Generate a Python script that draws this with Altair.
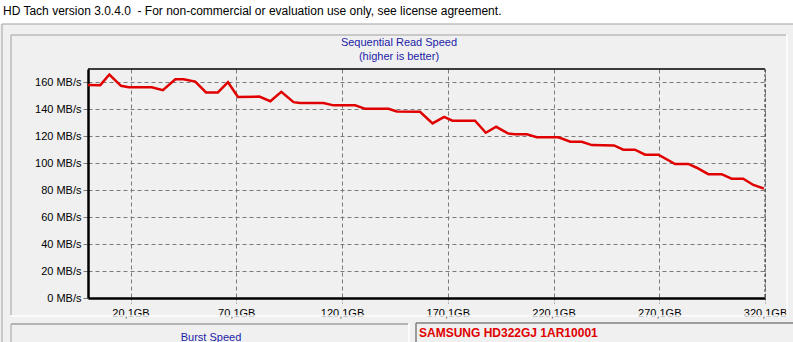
import altair as alt
import pandas as pd

# ---- data ----
gb = [0, 5.8, 10.1, 15.6, 19.2, 30.2, 35.4, 41.3, 45.2, 50.7,
      55.8, 61.4, 66.2, 70.9, 81.0, 86.2, 91.4, 97.2, 100.3, 111.3,
      116.1, 126.3, 131.1, 142.1, 146.0, 157.0, 162.9, 168.4, 172.3, 183.0,
      188.1, 193.0, 198.5, 201.9, 207.5, 212.2, 222.4, 228.1, 233.5, 238.2,
      248.7, 253.1, 258.6, 263.4, 269.7, 277.6, 283.8, 287.8, 293.3, 299.6,
      304.3, 309.8, 314.6, 319.6]
speed = [158.2, 158.0, 165.9, 157.5, 156.5, 156.5, 154.3, 162.4, 162.4, 160.7,
         152.6, 152.6, 160.2, 149.3, 149.5, 146.1, 153.0, 145.4, 144.7, 144.7,
         143.0, 143.0, 140.4, 140.4, 138.5, 138.2, 129.6, 134.5, 131.6, 131.6,
         122.7, 127.1, 122.2, 121.5, 121.5, 119.3, 119.3, 116.0, 116.0, 113.5,
         113.3, 110.1, 110.1, 106.4, 106.4, 99.5, 99.5, 96.7, 91.9, 91.9,
         88.6, 88.6, 83.9, 81.2]
x_ticks = [20.1, 70.1, 120.1, 170.1, 220.1, 270.1, 320.1]
y_ticks = [0, 20, 40, 60, 80, 100, 120, 140, 160]

header = "HD Tach version 3.0.4.0 \u00a0- For non-commercial or evaluation use only, see license agreement."
title1 = "Sequential Read Speed"
title2 = "(higher is better)"
burst_title = "Burst Speed"
drive_name = "SAMSUNG HD322GJ 1AR10001"

df = pd.DataFrame({"gb": gb, "speed": speed})
one = pd.DataFrame({"k": [0]})

# ---- layout (pixels) ----
OX, OY = 88, 69          # plot origin in the page
W, H = 677, 229          # plot area
FONT = "Liberation Sans"


def rx(a):
    return a - OX


def ry(a):
    return a - OY


def box(x1, y1, x2, y2, **kw):
    return alt.Chart(one).mark_rect(**kw).encode(
        x=alt.value(rx(x1)), x2=alt.value(rx(x2)),
        y=alt.value(ry(y1)), y2=alt.value(ry(y2)))


def line(x1, y1, x2, y2, **kw):
    return alt.Chart(one).mark_rule(**kw).encode(
        x=alt.value(rx(x1)), x2=alt.value(rx(x2)),
        y=alt.value(ry(y1)), y2=alt.value(ry(y2)))


def label(txt, x, y, **kw):
    return alt.Chart(one).mark_text(**kw).encode(
        x=alt.value(rx(x)), y=alt.value(ry(y)), text=alt.value(txt))


decor = [
    box(0, 0, 800, 24, color="white"),
    # outer frame
    line(2, 24, 800, 24, color="#a0a0a0", strokeWidth=1),
    line(2, 24, 2, 350, color="#a0a0a0", strokeWidth=1),
    # inner panel (3D border)
    line(11, 35, 786, 35, color="#a0a0a0", strokeWidth=1),
    line(11, 35, 11, 315, color="#a0a0a0", strokeWidth=1),
    line(11, 316, 787, 316, color="white", strokeWidth=1.5),
    line(787, 35, 787, 316, color="white", strokeWidth=1.5),
    # burst panel
    line(11, 324, 408, 324, color="#a0a0a0", strokeWidth=1.5),
    line(11, 324, 11, 350, color="#a0a0a0", strokeWidth=1),
    line(409, 324, 409, 350, color="white", strokeWidth=1.5),
    # drive box
    line(416, 323, 800, 323, color="#808080", strokeWidth=1.5),
    line(416, 323, 416, 350, color="#808080", strokeWidth=1.5),
    # texts
    label(header, 3, 15, align="left", baseline="alphabetic", font=FONT,
          fontSize=12, color="#000000"),
    label(title1, 399, 43, align="center", baseline="middle", font=FONT,
          fontSize=11, color="#1c1ca8"),
    label(title2, 399, 57, align="center", baseline="middle", font=FONT,
          fontSize=11, color="#1c1ca8"),
    label(burst_title, 211, 338, align="center", baseline="middle", font=FONT,
          fontSize=11, color="#1c1ca8"),
    label(drive_name, 419, 333, align="left", baseline="middle", font=FONT,
          fontSize=12, fontWeight="bold", color="#e00000"),
]

x_scale = alt.Scale(domain=[0, 320.1], nice=False, zero=False)
y_scale = alt.Scale(domain=[0, 170], nice=False)

speed_line = alt.Chart(df).mark_line(color="#e00000", strokeWidth=2.5).encode(
    x=alt.X("gb:Q", scale=x_scale, title=None,
            axis=alt.Axis(values=x_ticks,
                          labelExpr="replace(format(datum.value, '.1f'), '.', ',') + 'GB'",
                          grid=True, gridDash=[4, 3], gridColor="#7a7a7a",
                          gridWidth=1, domainColor="#000000", domainWidth=2.5,
                          tickColor="#7a7a7a", tickSize=5, tickDash=[2, 2],
                          labelPadding=4, labelFont=FONT, labelFontSize=11,
                          labelColor="#000000", labelFlush=False)),
    y=alt.Y("speed:Q", scale=y_scale, title=None,
            axis=alt.Axis(values=y_ticks, labelExpr="datum.value + ' MB/s'",
                          grid=True, gridDash=[4, 3], gridColor="#7a7a7a",
                          gridWidth=1, domainColor="#000000", domainWidth=2.5,
                          tickColor="#7a7a7a", tickSize=5,
                          labelPadding=2, labelFont=FONT, labelFontSize=11,
                          labelColor="#000000")),
)

frame = [
    alt.Chart(one).mark_rule(color="#000000", strokeWidth=1.5).encode(
        x=alt.value(0), x2=alt.value(W), y=alt.value(0)),
    alt.Chart(one).mark_rule(color="#333333", strokeWidth=1, strokeDash=[3, 2]).encode(
        x=alt.value(W), y=alt.value(0), y2=alt.value(H)),
]

chart = alt.layer(*decor, *frame, speed_line).properties(
    width=W, height=H,
    autosize=alt.AutoSizeParams(type="none"),
    padding={"left": OX, "top": OY, "right": 793 - OX - W, "bottom": 342 - OY - H},
    background="#f0f0f0",
).configure_view(stroke=None)

chart.save("out.html", embed_options={"renderer": "svg", "actions": False})
